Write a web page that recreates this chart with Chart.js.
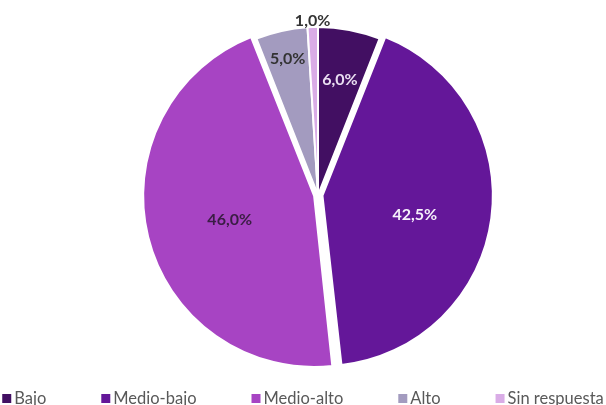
<!DOCTYPE html>
<html>
<head>
<meta charset="utf-8">
<script src="https://cdn.jsdelivr.net/npm/chart.js@4.4.1/dist/chart.umd.min.js"></script>
<style>
    html, body { margin: 0; padding: 0; background: #fff; overflow: hidden; }
    #chartsContainer { width: 606px; height: 405px; }
</style>
</head>
<body>
<div id="chartsContainer"><canvas id="nivelChart" width="606" height="405"></canvas></div>
<script>
// Datos del gráfico
var categorias = ['Bajo', 'Medio-bajo', 'Medio-alto', 'Alto', 'Sin respuesta'];
var porcentajes = [6.0, 42.5, 46.0, 5.0, 1.0];
var colores = ['#420f62', '#641799', '#a744c3', '#a39bbf', '#d9ace6'];

// Estilo de las etiquetas (posición radial, ajuste vertical y color)
var factorEtiqueta = [0.7, 0.54, 0.5, 0.83, 1.035];
var ajusteY = [0, 7, 3, 0, 0];
var colorEtiqueta = ['#eadff2', '#f6f0fb', '#3a1d44', '#333333', '#333333'];
var separacion = [0, 18, 16, 0, 0]; // porciones separadas

function formatoPct(v) {
    return v.toFixed(1).replace('.', ',') + '%';
}

var etiquetasPlugin = {
    id: 'etiquetas',
    afterDatasetsDraw: function(chart) {
        var ctx = chart.ctx;
        var meta = chart.getDatasetMeta(0);
        ctx.save();
        ctx.font = 'bold 16px Lato';
        ctx.textAlign = 'center';
        ctx.textBaseline = 'middle';
        meta.data.forEach(function(arc, i) {
            var p = arc.getProps(['x', 'y', 'startAngle', 'endAngle', 'outerRadius', 'circumference'], true);
            var mid = (p.startAngle + p.endAngle) / 2;
            // mismo desplazamiento que aplica ArcElement al dibujar
            var fix = 1 - Math.sin(Math.min(Math.PI, p.circumference || 0));
            var desp = (separacion[i] / 4) * (1 + fix);
            var r = p.outerRadius * factorEtiqueta[i] + desp;
            ctx.fillStyle = colorEtiqueta[i];
            ctx.fillText(formatoPct(porcentajes[i]), p.x + Math.cos(mid) * r, p.y + Math.sin(mid) * r + ajusteY[i]);
        });
        ctx.restore();
    }
};

// Leyenda dibujada con separación fija entre elementos
var leyendaPlugin = {
    id: 'leyenda',
    afterDraw: function(chart) {
        var ctx = chart.ctx;
        ctx.save();
        ctx.font = '16.5px Lato';
        ctx.textBaseline = 'middle';
        var gap = 55, caja = 9, txtOff = 12;
        var anchos = categorias.map(function(c) { return ctx.measureText(c).width; });
        var total = anchos.reduce(function(a, b) { return a + b + txtOff; }, 0) + gap * (categorias.length - 1);
        var x = (chart.width - total) / 2;
        var y = 398.5;
        categorias.forEach(function(c, i) {
            ctx.fillStyle = colores[i];
            ctx.fillRect(x, y - caja / 2, caja, caja);
            ctx.fillStyle = '#595959';
            ctx.fillText(c, x + txtOff, y);
            x += txtOff + anchos[i] + gap;
        });
        ctx.restore();
    }
};

new Chart(document.getElementById('nivelChart'), {
    type: 'pie',
    data: {
        labels: categorias,
        datasets: [{
            data: porcentajes,
            backgroundColor: colores,
            borderColor: '#ffffff',
            borderWidth: 2,
            offset: separacion
        }]
    },
    options: {
        responsive: false,
        animation: false,
        radius: 168,
        layout: { padding: { left: 30, right: 0, top: 0, bottom: 15 } },
        plugins: {
            legend: { display: false },
            tooltip: { enabled: false }
        }
    },
    plugins: [etiquetasPlugin, leyendaPlugin]
});
</script>
</body>
</html>
